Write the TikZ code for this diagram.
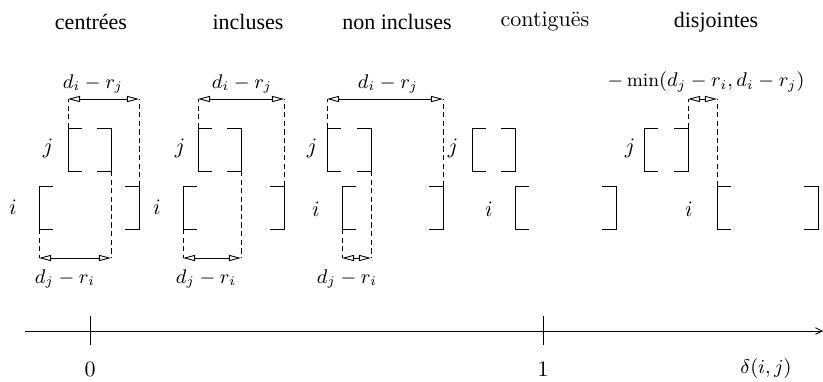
\documentclass[tikz,border=0pt]{standalone}
\usepackage{fontspec}
\usepackage{amsmath}
\usepackage{tikz}
\usetikzlibrary{arrows.meta,positioning,calc}
\newfontfamily\titrefont{Liberation Serif}
% deux crochets [ ] : nom, gauche, droite, haut
\newcommand{\crochets}[4]{%
  \coordinate (#1hg) at (#2,#4);
  \coordinate (#1hd) at (#3,#4);
  \coordinate (#1bg) at (#2,{#4+43});
  \coordinate (#1bd) at (#3,{#4+43});
  \draw ($(#1hg)+(14,0)$) -- (#1hg) -- (#1bg) -- ++(14,0);
  \draw ($(#1hd)+(-14,0)$) -- (#1hd) -- (#1bd) -- ++(-14,0);
}
\tikzset{
  tirets/.style={dash pattern=on 2.4pt off 1.5pt},
  cote/.style={{Triangle[open,length=5.5pt,width=2.8pt]}-{Triangle[open,length=5.5pt,width=2.8pt]}},
  titre/.style={font=\titrefont},
  valeur/.style={font=\fontsize{8.6}{10}\selectfont},
}

\begin{document}
\begin{tikzpicture}[x=0.4545pt,y=-0.4545pt]
  \useasboundingbox (0,0) rectangle (823,381);
  % titres
  \node[titre] (t1) at (91,22) {centrées};
  \node[titre] (t2) at (248,22) {incluses};
  \node[titre] (t3) at (397,22) {non incluses};
  \node (t4) at (545,22) {contiguës};
  \node[titre] (t5) at (716,22) {disjointes};
  % centrées
  \crochets{j1}{68}{111}{128}
  \crochets{i1}{39}{139}{186}
  \node (lj1) at (48,148) {$j$};
  \node (li1) at (13,207) {$i$};
  \coordinate (h1a) at (68,99);
  \coordinate (h1b) at (139,99);
  \draw[tirets] (j1hg) -- (h1a);
  \draw[tirets] (i1hd) -- (h1b);
  \draw[cote] (h1a) -- (h1b);
  \node[valeur] (c1h) at (93,84) {$d_i-r_j$};
  \coordinate (b1a) at (39,258);
  \coordinate (b1b) at (111,258);
  \draw[tirets] (i1bg) -- (b1a);
  \draw[tirets] (j1bd) -- (b1b);
  \draw[cote] (b1a) -- (b1b);
  \node[valeur] (c1b) at (65,279) {$d_j-r_i$};
  % incluses
  \crochets{j2}{198}{241}{128}
  \crochets{i2}{183}{284}{186}
  \node (lj2) at (180,148) {$j$};
  \node (li2) at (157,207) {$i$};
  \coordinate (h2a) at (198,99);
  \coordinate (h2b) at (284,99);
  \draw[tirets] (j2hg) -- (h2a);
  \draw[tirets] (i2hd) -- (h2b);
  \draw[cote] (h2a) -- (h2b);
  \node[valeur] (c2h) at (242,84) {$d_i-r_j$};
  \coordinate (b2a) at (183,258);
  \coordinate (b2b) at (241,258);
  \draw[tirets] (i2bg) -- (b2a);
  \draw[tirets] (j2bd) -- (b2b);
  \draw[cote] (b2a) -- (b2b);
  \node[valeur] (c2b) at (206,279) {$d_j-r_i$};
  % non incluses
  \crochets{j3}{327}{371}{128}
  \crochets{i3}{342}{443}{186}
  \node (lj3) at (312,148) {$j$};
  \node (li3) at (316,209) {$i$};
  \coordinate (h3a) at (327,99);
  \coordinate (h3b) at (443,99);
  \draw[tirets] (j3hg) -- (h3a);
  \draw[tirets] (i3hd) -- (h3b);
  \draw[cote] (h3a) -- (h3b);
  \node[valeur] (c3h) at (388,84) {$d_i-r_j$};
  \coordinate (b3a) at (342,258);
  \coordinate (b3b) at (371,258);
  \draw[tirets] (i3bg) -- (b3a);
  \draw[tirets] (j3bd) -- (b3b);
  \draw[cote] (b3a) -- (b3b);
  \node[valeur] (c3b) at (347,279) {$d_j-r_i$};
  % contiguës
  \crochets{j4}{472}{515}{128}
  \crochets{i4}{515}{616}{186}
  \node (lj4) at (453,148) {$j$};
  \node (li4) at (489,209) {$i$};
  % disjointes
  \crochets{j5}{644}{688}{128}
  \crochets{i5}{717}{818}{186}
  \node (lj5) at (630,148) {$j$};
  \node (li5) at (689,209) {$i$};
  \coordinate (h5a) at (688,99);
  \coordinate (h5b) at (717,99);
  \draw[tirets] (j5hd) -- (h5a);
  \draw[tirets] (i5hg) -- (h5b);
  \draw[cote] (h5a) -- (h5b);
  \node[valeur] (c5h) at (706,82) {$-\min(d_j-r_i,d_i-r_j)$};
  % axe
  \coordinate (ax0) at (25,331);
  \coordinate (ax1) at (823,331);
  \draw[-{Straight Barb[length=3pt,width=3pt]}] (ax0) -- (ax1);
  \node (g0) at (90,369) {$0$};
  \node (g1) at (543,369) {$1$};
  \node[valeur] (gd) at (766,369) {$\delta(i,j)$};
  \draw (90,316) -- (90,345);
  \draw (543,316) -- (543,345);
\end{tikzpicture}
\end{document}
